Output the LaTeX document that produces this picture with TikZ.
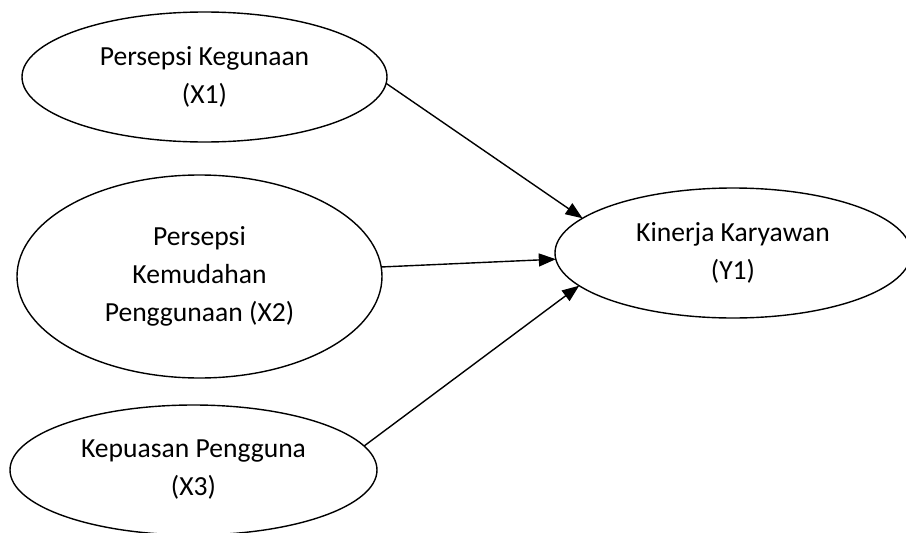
\documentclass[tikz,border=0pt]{standalone}
\usepackage{fontspec}
\setmainfont{Carlito}
\usetikzlibrary{arrows.meta,shapes.geometric}
\tikzset{
  latent/.style={draw, ellipse, line width=1.4pt, inner sep=0pt, outer sep=0pt, align=center,
    font=\fontsize{27.6}{38}\selectfont},
  link/.style={line width=1.4pt, -{Triangle[length=17pt,width=13pt]}}
}
\begin{document}
\begin{tikzpicture}[x=1pt,y=-1pt]
\useasboundingbox (0,0) rectangle (906,533);
\clip (0,0) rectangle (906,533);
\node[latent, minimum width=365pt, minimum height=130pt] (X1) at (204.5,77) {Persepsi Kegunaan\\(X1)};
\node[latent, minimum width=365pt, minimum height=203pt] (X2) at (199.5,276.5) {Persepsi\\Kemudahan\\Penggunaan (X2)};
\node[latent, minimum width=367pt, minimum height=130pt] (X3) at (193.5,470) {Kepuasan Pengguna\\(X3)};
\node[latent, minimum width=356pt, minimum height=130pt] (Y1) at (733,253) {Kinerja Karyawan\\(Y1)};
\draw[link] (X1.-2) -- (Y1.167);
\draw[link] (X2.3) -- (Y1.182);
\draw[link] (X3.8) -- (Y1.192);
\end{tikzpicture}
\end{document}
